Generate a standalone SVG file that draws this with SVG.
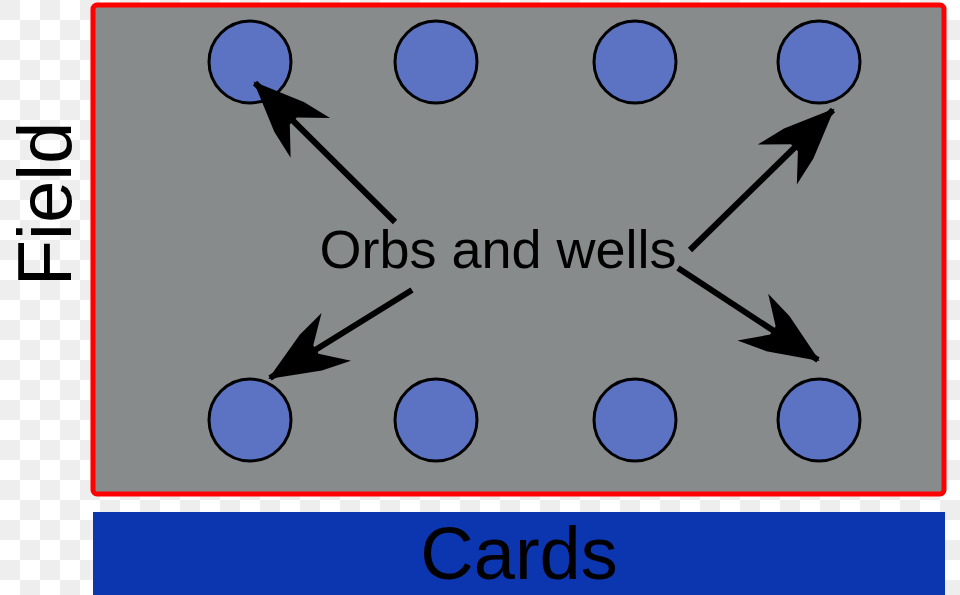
<svg xmlns="http://www.w3.org/2000/svg" width="960" height="595" viewBox="0 0 960 595">
<style>
.orb{fill:#5b73c2;stroke:#000;stroke-width:3}
.arr{stroke:#000;stroke-width:6;fill:none;marker-end:url(#ah)}
text{font-family:"Liberation Sans",Arial,sans-serif;fill:#000}
</style>
<defs>
<pattern id="chk" width="40" height="40" patternUnits="userSpaceOnUse">
<rect width="40" height="40" fill="#fff"/>
<rect width="20" height="20" fill="#eee"/>
<rect x="20" y="20" width="20" height="20" fill="#eee"/>
</pattern>
<marker id="ah" markerUnits="userSpaceOnUse" markerWidth="100" markerHeight="70" refX="70" refY="35" orient="auto" overflow="visible">
<path d="M72,35 L22,14 L-8,7 L16,30 L16,40 L-8,63 L22,56 Z" fill="#000"/>
</marker>
</defs>
<rect width="960" height="595" fill="url(#chk)"/>
<g id="field">
<rect x="93" y="5" width="851" height="489" rx="4" fill="#888b8b" stroke="#f00" stroke-width="5"/>
<text x="0" y="0" font-size="76" text-anchor="middle" transform="translate(71,204) rotate(-90)">Field</text>
</g>
<g id="cards">
<rect x="93" y="512" width="852" height="83" fill="#0c35b0"/>
<text x="519" y="579" font-size="74" text-anchor="middle">Cards</text>
</g>
<g id="orbs">
<circle class="orb" cx="250" cy="62" r="41"/>
<circle class="orb" cx="436" cy="62" r="41"/>
<circle class="orb" cx="635" cy="62" r="41"/>
<circle class="orb" cx="819" cy="62" r="41"/>
<circle class="orb" cx="250" cy="420" r="41"/>
<circle class="orb" cx="436" cy="420" r="41"/>
<circle class="orb" cx="635" cy="420" r="41"/>
<circle class="orb" cx="819" cy="420" r="41"/>
</g>
<g id="connectors">
<line class="arr" x1="395" y1="222" x2="255" y2="83"/>
<line class="arr" x1="690" y1="250" x2="833" y2="110"/>
<line class="arr" x1="412" y1="290" x2="270" y2="378"/>
<line class="arr" x1="678" y1="268" x2="818" y2="360"/>
</g>
<g id="label">
<text x="498" y="268" font-size="54" text-anchor="middle">Orbs and wells</text>
</g>
</svg>
